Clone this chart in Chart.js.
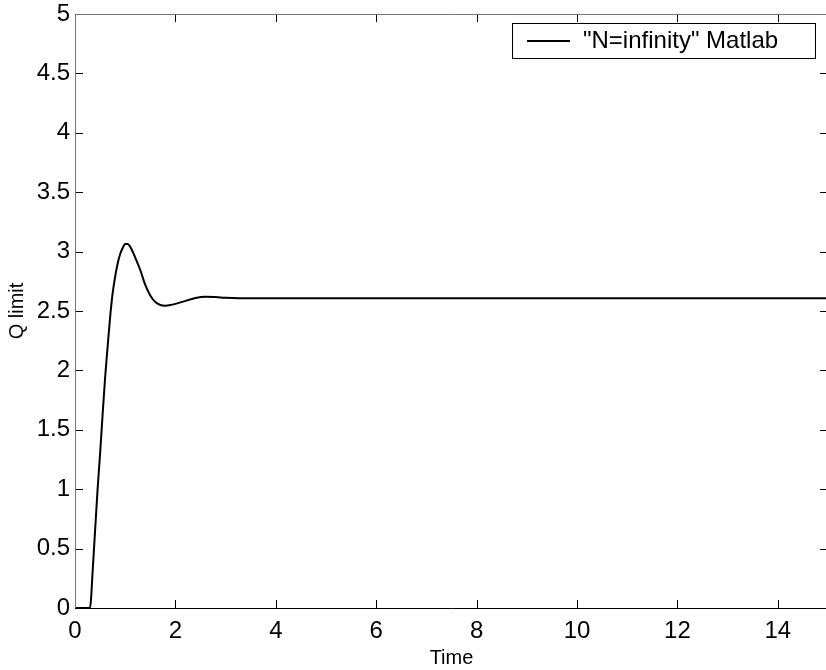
<!DOCTYPE html>
<html>
<head>
<meta charset="utf-8">
<script src="https://cdn.jsdelivr.net/npm/chart.js@4.4.1/dist/chart.umd.min.js"></script>
<style>
  html, body { margin: 0; padding: 0; background: #fff; overflow: hidden; }
  #wrap { position: relative; width: 828px; height: 670px; }
</style>
</head>
<body>
<div id="wrap"><canvas id="chart"></canvas></div>
<script>
// values
const seriesLabel = '"N=infinity" Matlab';
const timeValues = [0, 0.3, 0.32, 0.35, 0.4, 0.45, 0.5, 0.55, 0.6, 0.65, 0.7, 0.75, 0.8, 0.85, 0.9, 0.95, 1.0, 1.05, 1.1, 1.2, 1.3, 1.4, 1.5, 1.6, 1.7, 1.8, 1.9, 2.0, 2.2, 2.4, 2.6, 2.8, 3.0, 3.5, 4, 6, 8, 10, 12, 15];
const qValues = [0, 0, 0.08, 0.3, 0.65, 1.0, 1.3, 1.63, 1.94, 2.2, 2.45, 2.65, 2.79, 2.9, 2.98, 3.03, 3.065, 3.065, 3.04, 2.95, 2.845, 2.72, 2.63, 2.575, 2.55, 2.545, 2.55, 2.56, 2.585, 2.61, 2.62, 2.617, 2.612, 2.607, 2.607, 2.607, 2.607, 2.607, 2.607, 2.607];
const xTickValues = [0, 2, 4, 6, 8, 10, 12, 14];
const yTickValues = [0, 0.5, 1, 1.5, 2, 2.5, 3, 3.5, 4, 4.5, 5];

const FONT = "'Liberation Sans', Arial, Helvetica, sans-serif";

// matlab style frame with ticks pointing inwards
const framePlugin = {
  id: "frame",
  afterDraw(chart) {
    const { ctx, chartArea: a, scales } = chart;
    ctx.save();
    ctx.lineWidth = 1;
    ctx.strokeStyle = "#000";
    const tl = 8;
    ctx.beginPath();
    xTickValues.forEach((v) => {
      const x = Math.round(scales.x.getPixelForValue(v)) + 0.5;
      ctx.moveTo(x, a.bottom);
      ctx.lineTo(x, a.bottom - tl);
      ctx.moveTo(x, a.top);
      ctx.lineTo(x, a.top + tl);
    });
    yTickValues.forEach((v) => {
      const y = Math.round(scales.y.getPixelForValue(v)) + 0.5;
      ctx.moveTo(a.left, y);
      ctx.lineTo(a.left + tl, y);
      ctx.moveTo(a.right, y);
      ctx.lineTo(a.right - tl, y);
    });
    ctx.stroke();

    ctx.strokeStyle = "#777";
    ctx.beginPath();
    ctx.moveTo(a.left + 0.5, a.bottom);
    ctx.lineTo(a.left + 0.5, a.top + 0.5);
    ctx.lineTo(a.right, a.top + 0.5);
    ctx.stroke();
    ctx.strokeStyle = "#000";
    ctx.beginPath();
    ctx.moveTo(a.left, a.bottom + 0.5);
    ctx.lineTo(a.right, a.bottom + 0.5);
    ctx.stroke();

    // legend box inside the axes
    const bx = 512, by = 23, bw = 303, bh = 35;
    ctx.fillStyle = "#fff";
    ctx.fillRect(bx, by, bw, bh);
    ctx.strokeRect(bx + 0.5, by + 0.5, bw, bh);
    ctx.lineWidth = 2;
    ctx.beginPath();
    ctx.moveTo(527, by + bh / 2 + 0.5);
    ctx.lineTo(570, by + bh / 2 + 0.5);
    ctx.stroke();
    ctx.fillStyle = "#000";
    ctx.font = "24px " + FONT;
    ctx.textBaseline = "middle";
    ctx.textAlign = "left";
    ctx.fillText(seriesLabel, 583, by + bh / 2 + 1);
    ctx.restore();
  },
};

const ctx = document.getElementById("chart").getContext("2d");
new Chart(ctx, {
  type: "line",
  data: {
    datasets: [
      {
        label: seriesLabel,
        data: timeValues.map((t, i) => ({ x: t, y: qValues[i] })),
        borderColor: "#000",
        borderWidth: 2,
        pointRadius: 0,
        fill: false,
        cubicInterpolationMode: "monotone",
      },
    ],
  },
  options: {
    responsive: true,
    maintainAspectRatio: false,
    animation: false,
    layout: { padding: { top: 14, right: 0, left: 0, bottom: 0 } },
    plugins: {
      legend: { display: false },
      tooltip: { enabled: false },
    },
    scales: {
      x: {
        type: "linear",
        min: 0,
        max: 15,
        afterBuildTicks: (scale) => {
          scale.ticks = xTickValues.map((v) => ({ value: v }));
        },
        afterFit: (scale) => {
          scale.height = 62;
          scale.paddingLeft = 0;
          scale.paddingRight = 0;
        },
        grid: { display: false, drawTicks: false },
        border: { display: false },
        ticks: {
          color: "#000",
          padding: 9,
          maxRotation: 0,
          font: { family: FONT, size: 24 },
          callback: (v) => String(v),
        },
        title: {
          display: true,
          text: "Time",
          color: "#000",
          font: { family: FONT, size: 20 },
          padding: { top: 0, bottom: 0 },
        },
      },
      y: {
        type: "linear",
        min: 0,
        max: 5,
        afterBuildTicks: (scale) => {
          scale.ticks = yTickValues.map((v) => ({ value: v }));
        },
        afterFit: (scale) => {
          scale.width = 75;
          scale.paddingTop = 0;
          scale.paddingBottom = 0;
        },
        grid: { display: false, drawTicks: false },
        border: { display: false },
        ticks: {
          color: "#000",
          padding: 5,
          font: { family: FONT, size: 24 },
          callback: (v) => String(v),
        },
        title: {
          display: true,
          text: "Q limit",
          color: "#000",
          font: { family: FONT, size: 20 },
          padding: { top: 5, bottom: 0 },
        },
      },
    },
  },
  plugins: [framePlugin],
});
</script>
</body>
</html>
